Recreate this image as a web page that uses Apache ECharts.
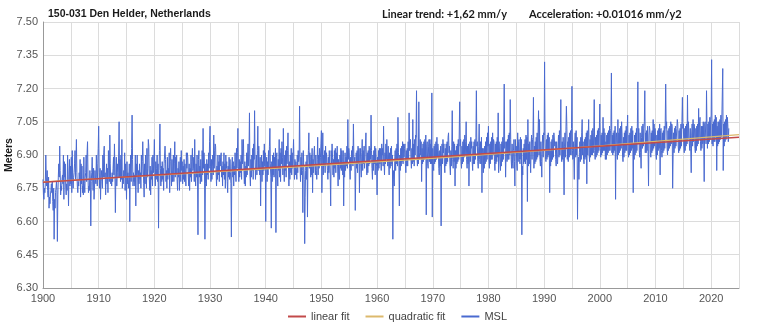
<!DOCTYPE html>
<html>
<head>
<meta charset="utf-8">
<script src="https://cdn.jsdelivr.net/npm/echarts@6/dist/echarts.min.js"></script>
<style>
html,body{margin:0;padding:0;background:#fff;}
#chart{width:768px;height:324px;}
</style>
</head>
<body>
<div id="chart"></div>
<script>
// Monthly mean sea level (m), Jan 1900 onwards
const msl1900s = [
6.79,6.72,6.70,6.75,6.73,6.77,6.90,6.80,6.76,6.83,6.74,6.71,
6.80,6.66,6.71,6.68,6.72,6.74,6.77,6.73,6.78,6.69,6.65,6.75,
6.52,6.70,6.66,6.73,6.75,6.78,6.74,6.51,6.72,6.80,6.86,6.80,
6.94,6.83,6.72,6.76,6.74,6.79,6.81,6.77,6.90,6.70,6.87,6.80,
6.86,6.75,6.72,6.77,6.74,6.90,6.79,6.67,6.81,6.88,6.76,6.85,
6.77,6.89,6.73,6.92,6.78,6.75,6.80,6.82,6.86,6.92,6.79,6.88,
6.97,6.82,6.76,6.73,6.78,6.76,6.82,6.79,6.88,6.71,6.86,6.77,
6.85,6.73,6.76,6.72,6.89,6.77,6.73,6.80,6.82,6.90,6.78,6.91,
6.96,6.80,6.73,6.76,6.74,6.83,6.79,6.58,6.78,6.82,6.89,6.79,
6.74,6.84,6.70,6.75,6.83,6.79,6.77,6.90,6.80,6.76,6.86,6.93];
const msl1910s = [
7.03,6.82,6.75,6.84,6.70,6.80,6.83,6.78,6.75,6.90,6.80,6.91,
6.94,6.80,6.82,6.72,6.79,6.86,6.77,6.84,6.73,6.92,6.83,6.78,
6.99,6.86,6.77,6.80,6.76,6.82,6.78,6.84,6.89,6.81,6.95,6.82,
6.64,6.81,6.89,6.76,6.82,6.86,6.80,6.90,7.05,6.80,6.88,6.78,
6.90,6.79,6.97,6.75,6.80,6.77,6.83,6.80,6.91,6.74,6.86,6.81,
6.70,6.87,6.77,6.82,6.75,6.79,6.86,6.60,6.80,6.90,6.78,6.93,
7.08,6.88,6.76,6.82,6.78,6.81,6.76,6.90,6.67,6.86,6.80,6.90,
6.81,6.73,6.83,6.77,6.86,6.79,6.82,6.75,6.90,6.81,6.87,6.96,
6.86,6.77,6.71,6.86,6.77,6.90,6.80,6.75,6.93,6.80,6.84,6.97,
6.94,6.80,6.74,6.85,6.72,6.83,6.79,6.89,6.76,6.90,6.82,6.87];
const msl1920s = [
6.97,6.82,6.76,6.87,6.79,6.84,6.90,6.78,6.86,6.57,6.83,6.92,
7.04,6.84,6.76,6.85,6.78,6.87,6.79,6.84,6.74,6.86,6.90,6.94,
6.88,6.78,6.83,6.75,6.89,6.79,6.84,6.81,6.91,6.73,6.87,6.93,
6.85,6.76,6.88,6.78,6.83,6.90,6.78,6.86,6.96,6.80,6.89,6.81,
6.90,6.79,6.74,6.84,6.80,6.87,6.74,6.84,6.89,6.78,6.92,6.83,
6.87,6.77,6.85,6.79,6.88,6.78,6.86,6.81,6.76,6.91,6.84,6.91,
6.89,6.81,6.76,6.86,6.74,6.84,6.80,6.90,6.78,6.87,6.93,6.83,
6.84,6.89,6.78,6.97,6.81,6.76,6.86,6.80,6.90,6.81,6.54,6.88,
6.92,6.80,6.85,6.77,6.88,6.82,6.78,6.92,6.81,7.02,6.84,6.91,
6.86,6.52,6.77,6.86,6.76,6.88,6.81,6.86,6.79,6.91,6.84,6.96];
const msl1930s = [
7.03,6.85,6.78,6.88,6.79,6.85,6.90,6.81,6.99,6.84,6.92,6.95,
6.94,6.83,6.76,6.85,6.79,6.90,6.81,6.87,6.78,6.90,6.85,6.89,
6.91,6.80,6.85,6.76,6.87,6.81,6.91,6.79,6.86,6.75,6.90,6.84,
6.87,6.78,6.73,6.85,6.80,6.89,6.79,6.88,6.82,6.77,6.53,6.85,
6.89,6.80,6.87,6.76,6.85,6.81,6.91,6.82,6.78,6.93,6.84,6.91,
7.02,6.85,6.78,6.88,6.80,6.87,6.82,6.90,6.79,6.97,6.86,6.93,
6.97,6.83,6.77,6.87,6.76,6.85,6.80,6.91,6.81,6.90,6.95,6.85,
6.92,7.09,6.81,6.76,6.88,6.80,6.90,6.83,6.93,6.79,6.95,6.88,
7.10,6.88,6.79,6.85,6.90,6.81,6.92,7.03,6.83,6.94,6.86,6.81,
6.89,6.67,6.84,6.90,6.78,6.87,6.81,6.92,6.83,6.95,6.85,6.91];
const msl1940s = [
6.60,6.83,6.89,6.78,6.87,6.81,6.92,6.84,6.94,7.02,6.86,6.80,
6.57,6.87,6.78,6.90,6.81,6.91,6.80,6.89,6.84,6.93,6.55,6.89,
6.91,6.81,6.76,6.88,6.83,6.97,6.80,6.91,6.78,6.93,6.86,6.96,
6.89,6.81,7.02,6.85,6.78,6.90,6.83,6.92,6.80,6.94,6.86,6.92,
7.00,6.85,6.76,6.87,6.79,6.90,6.82,6.93,6.81,6.91,6.84,6.90,
6.97,6.86,6.79,6.88,6.81,6.87,6.84,6.79,6.90,6.82,6.92,6.87,
6.89,7.12,6.85,6.78,6.89,6.81,6.91,6.83,6.64,6.92,6.85,6.79,
6.50,6.71,6.83,6.87,6.79,6.90,6.62,6.86,6.92,7.00,6.84,6.91,
6.88,6.80,6.90,6.81,6.93,6.73,6.88,6.82,6.91,6.94,6.85,6.81,
6.90,6.83,6.79,6.88,6.98,6.81,6.90,6.84,6.93,6.85,6.89,6.95];
const msl1950s = [
7.01,6.73,6.86,7.00,6.81,6.90,6.85,6.92,6.82,6.94,6.86,6.91,
6.91,6.83,6.79,6.89,6.82,6.92,6.85,6.81,6.67,6.92,6.86,6.95,
6.89,6.81,6.88,6.80,6.92,6.84,6.93,6.82,6.91,6.86,6.94,6.85,
6.76,6.88,6.81,6.79,6.90,6.84,6.93,6.83,6.92,6.87,6.81,6.92,
6.67,6.87,6.80,6.91,6.83,6.89,6.85,6.94,6.84,7.06,6.88,6.93,
6.91,6.84,6.79,6.89,6.83,6.92,6.86,6.94,6.85,7.04,6.89,6.87,
6.89,6.65,6.81,6.91,6.84,6.92,6.82,6.94,6.86,6.93,6.73,6.90,
6.93,6.85,6.80,6.91,6.97,6.83,6.92,6.86,6.94,6.84,6.90,6.95,
7.00,6.86,6.81,6.91,6.82,6.92,6.85,6.94,6.86,6.93,6.88,7.08,
6.92,6.84,6.79,6.90,6.83,6.92,6.86,6.94,6.81,6.93,6.88,6.85];
const msl1960s = [
6.72,6.89,6.83,6.92,6.84,6.93,6.86,6.93,6.87,6.83,6.95,6.90,
6.93,6.85,7.03,6.87,6.81,6.91,6.86,6.95,6.88,6.97,6.90,6.85,
6.94,6.86,6.81,6.91,6.84,6.93,6.85,6.94,6.86,6.90,6.52,6.83,
6.79,6.76,6.87,6.92,6.83,6.93,6.86,6.95,6.85,7.07,6.91,6.87,
6.67,6.90,6.83,6.93,6.85,6.94,6.87,6.96,6.86,6.95,6.89,6.93,
6.95,6.86,6.82,6.92,6.85,6.93,6.85,6.96,6.88,7.09,6.92,6.96,
6.97,6.88,6.84,6.93,6.86,7.06,6.87,6.95,6.85,6.97,6.90,6.99,
6.98,7.19,6.89,6.85,6.94,6.86,7.14,6.91,6.88,6.97,6.90,6.96,
6.78,6.93,6.86,6.95,6.87,6.96,6.88,6.97,6.89,6.99,6.63,6.94,
6.96,6.86,6.84,6.94,6.97,6.87,6.97,6.86,6.95,6.86,7.18,6.62];
const msl1970s = [
6.93,6.85,6.83,6.94,6.86,6.95,6.87,6.96,6.88,6.98,6.89,6.95,
6.92,6.84,6.81,6.92,6.85,6.94,6.58,6.89,6.95,6.86,6.97,6.91,
6.95,6.86,6.82,6.93,6.85,6.95,6.86,6.96,6.87,6.98,7.00,6.91,
6.94,6.85,6.81,6.92,6.85,6.94,7.10,6.88,6.84,6.96,6.87,6.95,
6.76,6.92,6.84,6.94,6.86,6.95,6.87,6.97,6.88,6.99,7.14,6.94,
6.97,6.87,6.84,6.94,6.86,6.96,6.87,6.97,6.89,6.99,6.90,6.96,
7.05,6.88,6.84,6.94,6.86,6.95,6.76,6.90,6.96,6.87,6.98,6.93,
6.96,6.87,6.83,6.94,6.86,6.96,6.86,6.97,6.88,6.98,7.19,6.94,
6.96,6.87,6.84,6.94,7.04,6.88,6.86,6.96,6.86,6.98,6.73,6.93,
6.91,6.82,6.93,6.84,6.94,6.86,6.96,6.87,6.98,6.88,7.00,6.94];
const msl1980s = [
7.03,6.88,6.84,6.95,6.86,6.96,6.88,6.98,6.88,7.00,6.90,6.97,
6.96,6.87,6.83,6.95,6.86,6.96,6.87,6.98,6.89,7.09,6.82,6.96,
6.96,6.87,6.83,6.95,6.85,6.96,6.87,6.98,6.88,6.99,7.22,6.93,
6.96,6.80,6.91,6.96,6.87,6.97,6.88,6.99,6.88,7.00,6.90,7.15,
6.97,6.88,6.84,6.95,6.86,6.84,6.92,6.97,6.87,6.76,6.97,6.92,
6.94,6.86,6.83,7.00,6.87,6.96,6.97,6.88,6.86,6.98,6.88,6.97,
6.54,6.85,6.81,6.93,6.86,6.95,6.87,6.97,6.86,6.99,6.88,6.98,
6.69,7.06,6.85,6.95,6.86,6.96,6.88,6.82,6.95,6.99,6.88,6.97,
6.98,7.16,6.84,6.94,6.86,6.96,6.87,6.98,6.88,7.00,6.89,7.00,
7.10,6.90,7.06,6.88,6.85,6.96,6.87,6.80,6.95,6.99,6.89,7.00];
const msl1990s = [
6.99,7.32,6.97,6.88,6.87,6.97,6.88,6.99,6.89,7.00,6.90,6.98,
6.73,6.92,6.85,6.96,6.87,6.97,6.88,6.99,6.89,7.00,7.00,6.94,
6.96,6.88,6.85,6.96,6.87,6.86,6.93,6.99,6.89,7.01,6.90,6.99,
7.15,6.90,6.87,6.96,6.88,6.98,6.89,6.72,6.94,7.00,6.89,7.01,
7.12,7.03,6.88,6.96,6.87,6.98,6.89,7.00,6.90,7.01,6.90,7.02,
7.21,6.92,6.88,6.96,6.88,6.79,6.95,7.00,6.89,7.01,6.90,6.98,
6.61,6.84,6.89,6.79,6.91,6.96,6.87,6.98,6.88,7.00,7.06,6.90,
6.96,6.88,6.86,6.97,6.88,6.98,6.89,7.00,6.77,7.01,6.90,6.98,
7.06,6.90,6.87,6.97,6.89,6.99,6.90,7.01,6.90,7.02,6.91,7.00,
7.15,6.92,6.88,6.98,6.89,6.99,6.90,7.01,6.91,7.02,6.92,7.01];
const msl2000s = [
7.13,6.93,6.89,6.99,6.90,7.00,6.91,7.07,6.92,7.02,6.92,7.00,
6.88,6.96,6.88,6.99,6.90,7.00,6.91,7.01,6.92,7.03,6.92,7.01,
7.02,7.27,6.91,6.99,6.90,7.00,6.91,7.01,6.92,7.03,6.70,6.98,
7.00,6.91,6.88,7.06,6.90,7.00,6.91,7.02,6.92,7.03,6.93,7.05,
6.99,6.90,6.87,6.98,6.89,7.00,6.91,7.01,6.92,7.03,6.92,7.02,
7.08,6.92,6.89,6.99,6.90,7.00,6.91,7.02,6.92,7.03,6.93,7.01,
6.73,6.95,6.88,6.99,6.90,7.00,6.91,7.02,6.92,7.04,7.23,6.95,
7.02,6.92,6.89,7.00,6.91,6.84,6.98,7.03,6.93,7.04,6.94,7.02,
7.05,7.19,6.91,7.00,6.91,7.01,6.92,7.03,6.93,6.76,6.99,7.03,
7.01,6.91,6.89,7.00,6.91,7.01,6.92,7.06,6.93,7.04,6.94,7.02];
const msl2010s = [
6.99,6.90,6.88,6.99,6.90,7.01,6.92,7.02,6.93,7.04,6.81,7.01,
7.02,6.92,6.89,7.00,6.91,7.01,6.92,7.03,6.93,7.04,7.22,7.02,
7.05,6.93,6.90,7.01,6.92,7.02,6.93,7.03,6.94,7.05,6.95,7.04,
7.03,6.75,6.90,7.00,6.91,7.02,6.93,7.03,6.94,6.94,7.02,7.06,
7.04,6.94,6.91,7.01,6.92,7.02,6.93,7.04,6.94,7.05,7.16,7.02,
7.04,6.94,6.91,7.02,6.92,7.03,6.94,7.04,6.95,7.17,6.97,7.05,
7.05,6.95,6.92,7.02,6.93,6.82,6.99,7.04,6.94,7.06,6.96,7.04,
7.03,6.93,6.91,7.02,6.92,7.03,6.94,7.04,6.95,7.11,6.97,7.05,
7.07,6.96,6.92,7.03,6.93,7.03,6.95,7.05,6.95,6.78,7.04,7.05,
7.05,6.95,7.19,7.03,6.93,7.04,6.95,7.05,6.96,7.07,6.97,7.06];
const msl2020s = [
7.08,7.33,6.95,7.04,6.94,7.05,6.96,7.06,6.96,7.08,6.98,7.07,
6.83,7.03,6.94,7.05,6.95,7.05,6.96,7.06,6.97,7.08,6.98,7.06,
7.06,7.29,6.83,7.04,6.94,7.05,6.96,7.06,6.97,7.08,6.98,7.07,
7.03,6.96,7.02];

// Fit lines (year, metres)
const linearYears = [1900, 2025];
const linearValues = [6.777, 6.980];
const quadYears = [1900, 1920, 1940, 1960, 1980, 2000, 2025];
const quadValues = [6.779, 6.808, 6.838, 6.869, 6.903, 6.941, 6.992];

const startYear = 1900;
const xTicks = [1900,1910,1920,1930,1940,1950,1960,1970,1980,1990,2000,2010,2020];

const msl = [].concat(msl1900s, msl1910s, msl1920s, msl1930s, msl1940s, msl1950s,
  msl1960s, msl1970s, msl1980s, msl1990s, msl2000s, msl2010s, msl2020s);
const mslData = msl.map((v, i) => [startYear + i / 12, v]);
const linData = linearYears.map((y, i) => [y, linearValues[i]]);
const quadData = quadYears.map((y, i) => [y, quadValues[i]]);

const chart = echarts.init(document.getElementById('chart'), null, {renderer: 'canvas'});
chart.setOption({
  animation: false,
  backgroundColor: '#ffffff',
  textStyle: {fontFamily: '"Liberation Sans", Arial, sans-serif'},
  title: [
    {text: '150-031 Den Helder, Netherlands', left: 43, top: 4,
     textStyle: {fontSize: 10.5, fontWeight: 'bold', color: '#1a1a1a', fontFamily: '"Liberation Sans", Arial, sans-serif'}},
    {text: 'Linear trend: +1,62 mm/y', left: 377, top: 4,
     textStyle: {fontSize: 11, fontWeight: 'bold', color: '#1a1a1a', fontFamily: 'Lato, sans-serif'}},
    {text: 'Acceleration: +0.01016 mm/y2', left: 524, top: 4,
     textStyle: {fontSize: 11, fontWeight: 'bold', color: '#1a1a1a', fontFamily: 'Lato, sans-serif'}}
  ],
  grid: {left: 43, right: 29, top: 22, bottom: 36, containLabel: false, outerBoundsMode: 'none'},
  legend: {
    data: ['linear fit', 'quadratic fit', 'MSL'],
    left: 283, top: 306, icon: 'rect', itemWidth: 18, itemHeight: 2, itemGap: 16,
    textStyle: {fontSize: 11, color: '#444'}
  },
  xAxis: {
    type: 'value', min: 1900, max: 2025, interval: 5,
    axisLabel: {formatter: v => (xTicks.indexOf(v) >= 0 ? String(v) : ''), color: '#555', fontSize: 11, margin: 5},
    axisLine: {show: true, lineStyle: {color: '#999'}},
    axisTick: {show: false},
    splitLine: {show: true, lineStyle: {color: '#dcdcdc', width: 1}}
  },
  yAxis: {
    type: 'value', min: 6.30, max: 7.50, interval: 0.15,
    name: 'Meters', nameLocation: 'middle', nameGap: 28, nameRotate: 90, nameMoveOverlap: false,
    nameTextStyle: {fontWeight: 'bold', fontSize: 10.5, color: '#1a1a1a'},
    axisLabel: {formatter: v => v.toFixed(2), color: '#555', fontSize: 11, margin: 5},
    axisLine: {show: true, lineStyle: {color: '#999'}},
    axisTick: {show: false},
    splitLine: {show: true, lineStyle: {color: '#dcdcdc', width: 1}}
  },
  series: [
    {name: 'MSL', type: 'line', data: mslData, showSymbol: false, symbol: 'none',
     color: '#4a6ad0', lineStyle: {width: 1, color: '#4a6ad0'}, z: 2},
    {name: 'quadratic fit', type: 'line', data: quadData, smooth: true, showSymbol: false, symbol: 'none',
     color: '#dcb96c', lineStyle: {width: 1.3, color: '#dcb96c'}, z: 3},
    {name: 'linear fit', type: 'line', data: linData, showSymbol: false, symbol: 'none',
     color: '#c24a4a', lineStyle: {width: 1.5, color: '#c24a4a'}, z: 4}
  ]
});
</script>
</body>
</html>
